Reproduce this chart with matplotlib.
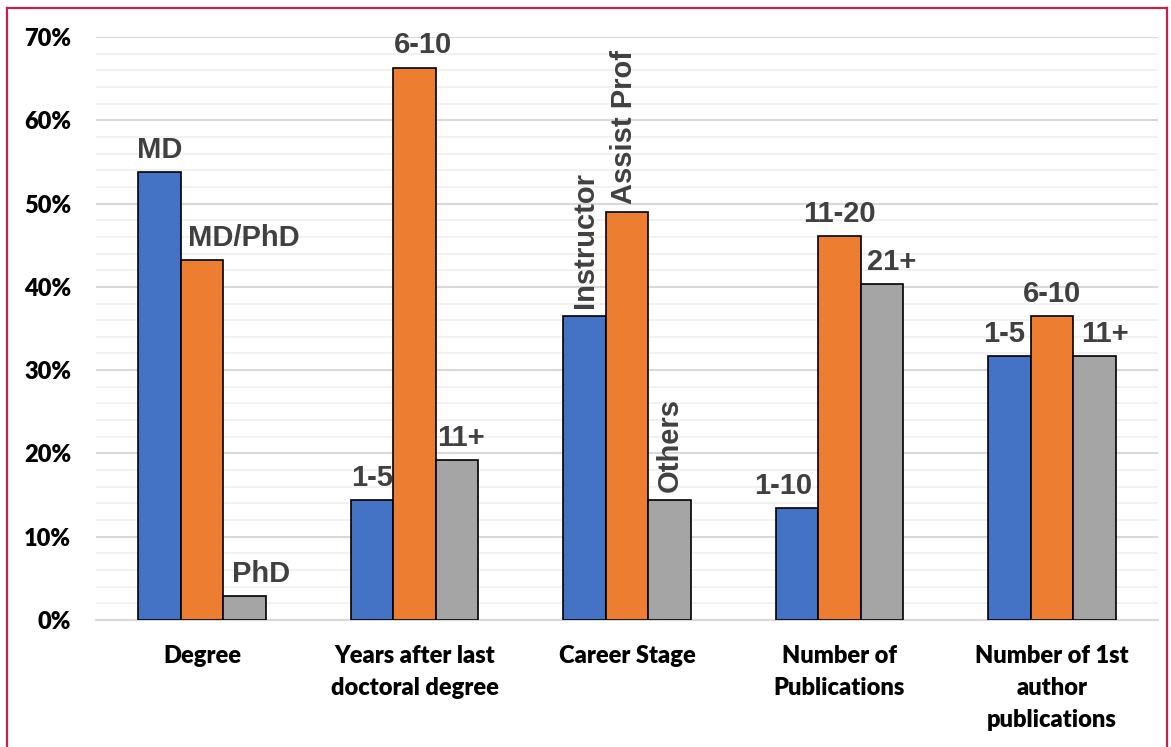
import numpy as np
import matplotlib.pyplot as plt
from matplotlib.lines import Line2D
from matplotlib.ticker import MultipleLocator, PercentFormatter

# category groups along the x axis
categories = ["Degree", "Years after last\ndoctoral degree", "Career Stage",
              "Number of\nPublications", "Number of 1st\nauthor\npublications"]

# three bars per group (share of respondents)
first_vals = [0.538, 0.144, 0.365, 0.134, 0.317]
second_vals = [0.432, 0.663, 0.490, 0.461, 0.365]
third_vals = [0.029, 0.192, 0.144, 0.403, 0.317]

first_labels = ["MD", "1-5", "Instructor", "1-10", "1-5"]
second_labels = ["MD/PhD", "6-10", "Assist Prof", "11-20", "6-10"]
third_labels = ["PhD", "11+", "Others", "21+", "11+"]

colors = ["#4472C4", "#ED7D31", "#A5A5A5"]
W, H = 1171, 747

fig = plt.figure(figsize=(W / 100, H / 100), dpi=100)
ax = fig.add_axes([96 / W, 1 - 620 / H, (1158 - 96) / W, (620 - 37) / H])

x = np.arange(len(categories))
bw = 0.2
series = [first_vals, second_vals, third_vals]
labels = [first_labels, second_labels, third_labels]

# horizontal nudges for the value labels (points)
nudge = [[0, 0, 0, -10, -4],
         [30, 6, -2, 0, 0],
         [12, 3, 0, 7, 8]]

for i, (vals, labs) in enumerate(zip(series, labels)):
    pos = x + (i - 1) * bw
    ax.bar(pos, vals, bw, color=colors[i], edgecolor="black", linewidth=1.2, zorder=3)
    for j, (p, v, t) in enumerate(zip(pos, vals, labs)):
        rot = 90 if j == 2 else 0
        ax.annotate(t, (p, v), xytext=(nudge[i][j], 6), textcoords="offset points",
                    ha="center", va="bottom", rotation=rot, fontsize=21,
                    fontweight="bold", family="Liberation Sans", color="#404040",
                    clip_on=False, zorder=4)

ax.set_xlim(-0.5, len(categories) - 0.5)
ax.set_ylim(0, 0.70)
ax.yaxis.set_major_locator(MultipleLocator(0.10))
ax.yaxis.set_minor_locator(MultipleLocator(0.02))
ax.yaxis.set_major_formatter(PercentFormatter(1.0, decimals=0))
ax.grid(axis="y", which="major", color="#D9D9D9", linewidth=1.5, zorder=0)
ax.grid(axis="y", which="minor", color="#F0F0F0", linewidth=1.3, zorder=0)
ax.set_axisbelow(True)
for s in ["top", "right", "left"]:
    ax.spines[s].set_visible(False)
ax.spines["bottom"].set_color("#D9D9D9")
ax.spines["bottom"].set_linewidth(1.5)

ax.tick_params(axis="both", which="both", length=0)
ax.tick_params(axis="y", pad=18)
ax.tick_params(axis="x", pad=18)
ax.set_xticks(x)
ax.set_xticklabels(categories, va="top", linespacing=1.55)
for lab in ax.get_yticklabels() + ax.get_xticklabels():
    lab.set_family("Lato")
    lab.set_fontweight("heavy")
    lab.set_fontsize(17)
    lab.set_color("black")

# outer frame (open at the bottom)
frame = "#C0244C"
fig.add_artist(Line2D([7 / W, 7 / W], [0, 1 - 8 / H], color=frame, linewidth=1.6))
fig.add_artist(Line2D([1167 / W, 1167 / W], [0, 1 - 8 / H], color=frame, linewidth=1.6))
fig.add_artist(Line2D([7 / W, 1167 / W], [1 - 8 / H, 1 - 8 / H], color=frame, linewidth=1.6))

fig.savefig("out.png", dpi=100)
